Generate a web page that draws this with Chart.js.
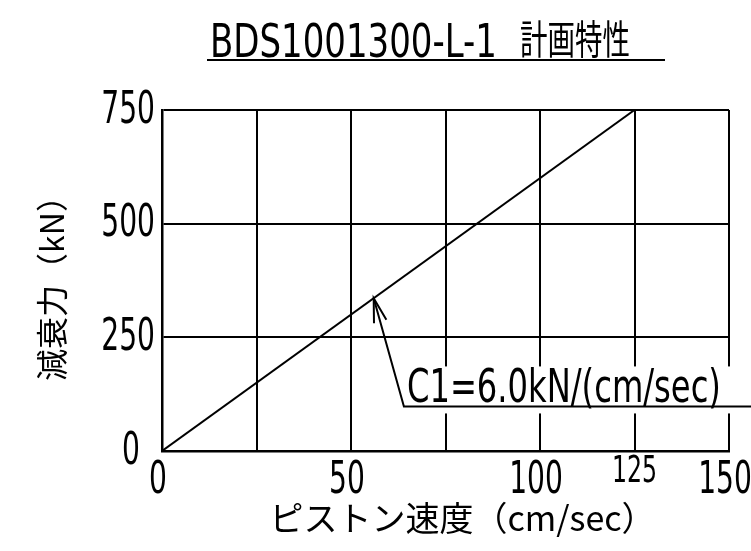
<!DOCTYPE html>
<html lang="ja">
<head>
<meta charset="utf-8">
<title>BDS1001300-L-1 計画特性</title>
<script src="https://cdn.jsdelivr.net/npm/chart.js@4.4.1/dist/chart.umd.min.js"></script>
<style>
  html, body { margin: 0; padding: 0; background: #fff; }
  #wrap { width: 751px; height: 551px; }
</style>
</head>
<body>
<div id="wrap"><canvas id="chart" width="751" height="551"></canvas></div>
<script>
// 計画特性 (減衰力 - ピストン速度)
const speeds = [0, 125];               // cm/sec
const forces = [0, 750];               // kN
const xTickLabels = [0, 50, 100, 125, 150];
const yTickLabels = [0, 250, 500, 750];
const raisedTick = 125;                // 小さめで少し上に書かれている目盛

const titleLatin = 'BDS1001300-L-1';
const titleKanji = '計画特性';
const c1Label = 'C1=6.0kN/(cm/sec)';

// 引出線 (データ座標)
const arrowTip = { x: 56, y: 336 };
const leaderElbow = { x: 64, y: 98 };

const DIGITS = "'DejaVu Sans', sans-serif";
const CJK = "'Noto Sans CJK JP', sans-serif";
const SQUEEZE = 0.64;   // CAD風の細い文字にするための横縮小

// 横に縮めた文字を書く
function narrowText(ctx, text, x, y, size, align, squeeze) {
    ctx.save();
    ctx.font = `${size}px ${DIGITS}`;
    ctx.textAlign = align;
    ctx.textBaseline = 'alphabetic';
    ctx.translate(x, y);
    ctx.scale(squeeze, 1);
    ctx.fillText(text, 0, 0);
    ctx.restore();
}

// 決まった幅に収める
function fittedText(ctx, text, x, y, font, width) {
    ctx.save();
    ctx.font = font;
    ctx.textAlign = 'left';
    ctx.textBaseline = 'alphabetic';
    const w = ctx.measureText(text).width;
    ctx.translate(x, y);
    ctx.scale(width / w, 1);
    ctx.fillText(text, 0, 0);
    ctx.restore();
}

const drawingPlugin = {
    id: 'drawing',
    afterDraw(chart) {
        const ctx = chart.ctx;
        const xs = chart.scales.x;
        const ys = chart.scales.y;
        ctx.save();
        ctx.fillStyle = '#000';
        ctx.strokeStyle = '#000';

        // 目盛ラベル
        xTickLabels.forEach(v => {
            const px = xs.getPixelForValue(v);
            if (v === raisedTick) {
                narrowText(ctx, String(v), px, xs.top + 31, 37, 'center', SQUEEZE);
            } else {
                narrowText(ctx, String(v), px - 4, xs.top + 42, 44, 'center', SQUEEZE);
            }
        });
        yTickLabels.forEach(v => {
            const py = ys.getPixelForValue(v);
            const right = v === 0 ? ys.right - 22 : ys.right - 7;
            narrowText(ctx, String(v), right, py + 12.5, 44, 'right', SQUEEZE);
        });

        // タイトル
        fittedText(ctx, titleLatin, 210, 57, `46px ${DIGITS}`, 287);
        fittedText(ctx, titleKanji, 520, 54, `40px ${CJK}`, 110);
        ctx.lineWidth = 2;
        ctx.beginPath();
        ctx.moveTo(207, 60);
        ctx.lineTo(665, 60);
        ctx.stroke();

        // 注記
        const tipX = xs.getPixelForValue(arrowTip.x);
        const tipY = ys.getPixelForValue(arrowTip.y);
        const elX = xs.getPixelForValue(leaderElbow.x);
        const elY = ys.getPixelForValue(leaderElbow.y);

        ctx.fillStyle = '#fff';
        ctx.fillRect(elX - 2, elY - 40, 337, 47);
        ctx.fillStyle = '#000';
        fittedText(ctx, c1Label, elX + 3, elY - 4, `46px ${DIGITS}`, 314);

        ctx.lineWidth = 2;
        ctx.beginPath();
        ctx.moveTo(tipX, tipY);
        ctx.lineTo(elX, elY);
        ctx.lineTo(chart.width, elY);
        ctx.stroke();

        // 矢印
        const ang = Math.atan2(elY - tipY, elX - tipX);
        const len = 25, spread = 0.26;
        ctx.beginPath();
        ctx.moveTo(tipX + len * Math.cos(ang - spread), tipY + len * Math.sin(ang - spread));
        ctx.lineTo(tipX, tipY);
        ctx.lineTo(tipX + len * Math.cos(ang + spread), tipY + len * Math.sin(ang + spread));
        ctx.stroke();

        ctx.restore();
    }
};

const ctx = document.getElementById('chart');
const chart = new Chart(ctx, {
    type: 'line',
    data: {
        datasets: [{
            label: '減衰力',
            data: speeds.map((s, i) => ({ x: s, y: forces[i] })),
            borderColor: '#000',
            borderWidth: 2,
            pointRadius: 0,
            fill: false,
            tension: 0
        }]
    },
    options: {
        responsive: false,
        animation: false,
        layout: {
            padding: { top: 110, right: 22, left: 0, bottom: 0 }
        },
        plugins: {
            legend: { display: false },
            title: { display: false },
            tooltip: { enabled: false }
        },
        scales: {
            x: {
                type: 'linear',
                min: 0,
                max: 150,
                afterFit: function(scale) {
                    scale.height = 100;
                    scale.paddingLeft = 0;
                    scale.paddingRight = 0;
                },
                ticks: { stepSize: 25, display: false },
                grid: { color: '#000', lineWidth: 2, drawTicks: false },
                border: { display: true, color: '#000', width: 2.5 },
                title: {
                    display: true,
                    // 先頭の全角スペースで少し右へ寄せる
                    text: '\u3000ピストン速度（cm/sec）',
                    color: '#000',
                    font: { family: CJK, size: 34, lineHeight: 1 },
                    padding: { top: 0, bottom: 16 }
                }
            },
            y: {
                type: 'linear',
                min: 0,
                max: 750,
                afterFit: function(scale) {
                    scale.width = 162;
                    scale.paddingTop = 0;
                    scale.paddingBottom = 0;
                },
                ticks: { stepSize: 250, display: false },
                grid: { color: '#000', lineWidth: 2, drawTicks: false },
                border: { display: true, color: '#000', width: 2.5 },
                title: {
                    display: true,
                    text: '減衰力（kN）',
                    color: '#000',
                    font: { family: CJK, size: 32, lineHeight: 1 },
                    padding: { top: 36, bottom: 0 }
                }
            }
        }
    },
    plugins: [drawingPlugin]
});
</script>
</body>
</html>
